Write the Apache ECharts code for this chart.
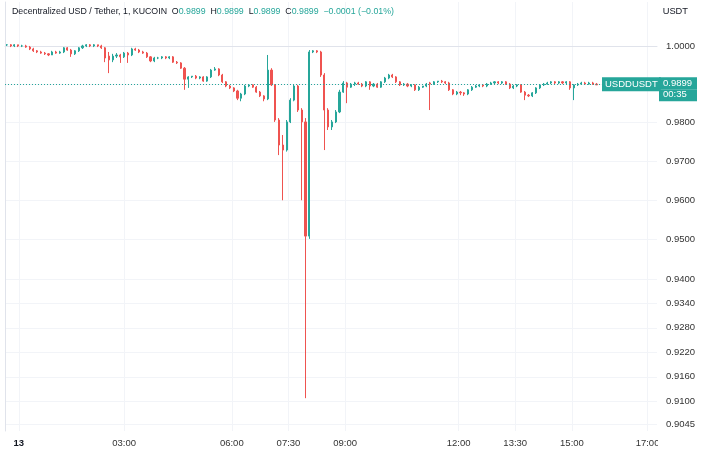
<!DOCTYPE html>
<html><head><meta charset="utf-8">
<script src="https://cdn.jsdelivr.net/npm/echarts@6/dist/echarts.min.js"></script>
<style>html,body{margin:0;padding:0;background:#fff}#c{width:710px;height:458px}</style>
</head><body><div id="c"></div>
<script>
// 6-minute candles
const opens = [
1.0005,1.0005,1.0002,1.0005,1.0002,1.0002,0.9999,0.9994,0.9989,0.9986,
0.9983,0.9981,0.9978,0.9986,0.9983,0.9986,0.9997,0.9991,0.9981,0.9989,
0.9997,1.0002,1.0005,1.0002,1.0005,1.0002,0.9997,0.9975,0.9965,0.9975,
0.9978,0.9973,0.9983,0.9978,0.9994,0.9991,0.9986,0.9983,0.9973,0.9962,
0.9970,0.9970,0.9973,0.9970,0.9973,0.9959,0.9957,0.9943,0.9914,0.9920,
0.9922,0.9917,0.9920,0.9909,0.9920,0.9938,0.9941,0.9925,0.9907,0.9896,
0.9891,0.9883,0.9864,0.9875,0.9896,0.9899,0.9893,0.9880,0.9870,0.9862,
0.9938,0.9899,0.9807,0.9742,0.9729,0.9802,0.9859,0.9896,0.9833,0.9802,
0.9509,0.9986,0.9989,0.9986,0.9925,0.9833,0.9789,0.9802,0.9828,0.9880,
0.9904,0.9893,0.9901,0.9904,0.9901,0.9896,0.9907,0.9896,0.9901,0.9893,
0.9907,0.9917,0.9925,0.9920,0.9907,0.9899,0.9901,0.9896,0.9899,0.9886,
0.9893,0.9896,0.9904,0.9901,0.9907,0.9909,0.9907,0.9904,0.9886,0.9875,
0.9880,0.9878,0.9875,0.9886,0.9893,0.9896,0.9899,0.9896,0.9901,0.9904,
0.9907,0.9904,0.9907,0.9901,0.9891,0.9896,0.9899,0.9880,0.9872,0.9870,
0.9878,0.9891,0.9899,0.9901,0.9904,0.9907,0.9904,0.9907,0.9904,0.9907,
0.9891,0.9899,0.9901,0.9904,0.9901,0.9904,0.9901
];
const closes = [
1.0005,1.0002,1.0005,1.0002,1.0002,0.9999,0.9994,0.9989,0.9986,0.9983,
0.9981,0.9978,0.9986,0.9983,0.9986,0.9997,0.9991,0.9981,0.9989,0.9997,
1.0002,1.0005,1.0002,1.0005,1.0002,0.9997,0.9970,0.9965,0.9975,0.9978,
0.9973,0.9983,0.9978,0.9994,0.9991,0.9986,0.9983,0.9973,0.9962,0.9970,
0.9970,0.9973,0.9970,0.9973,0.9959,0.9957,0.9943,0.9914,0.9920,0.9922,
0.9917,0.9920,0.9909,0.9920,0.9938,0.9941,0.9925,0.9907,0.9896,0.9891,
0.9883,0.9864,0.9875,0.9896,0.9899,0.9893,0.9880,0.9870,0.9862,0.9938,
0.9899,0.9807,0.9742,0.9729,0.9802,0.9859,0.9896,0.9833,0.9802,0.9509,
0.9986,0.9989,0.9986,0.9925,0.9833,0.9789,0.9802,0.9828,0.9880,0.9904,
0.9893,0.9901,0.9904,0.9901,0.9896,0.9907,0.9896,0.9901,0.9893,0.9907,
0.9917,0.9925,0.9920,0.9907,0.9899,0.9901,0.9896,0.9899,0.9886,0.9893,
0.9896,0.9901,0.9901,0.9907,0.9909,0.9907,0.9904,0.9886,0.9875,0.9880,
0.9878,0.9875,0.9886,0.9893,0.9896,0.9899,0.9896,0.9901,0.9904,0.9907,
0.9904,0.9907,0.9901,0.9891,0.9896,0.9899,0.9880,0.9872,0.9870,0.9878,
0.9891,0.9899,0.9901,0.9904,0.9907,0.9904,0.9907,0.9904,0.9907,0.9891,
0.9899,0.9901,0.9904,0.9901,0.9904,0.9901,0.9899
];
const lows = [
1.0002,0.9999,0.9999,0.9999,0.9999,0.9997,0.9991,0.9986,0.9983,0.9981,
0.9978,0.9975,0.9978,0.9981,0.9981,0.9983,0.9989,0.9973,0.9978,0.9986,
0.9994,0.9999,0.9999,0.9999,0.9999,0.9994,0.9959,0.9930,0.9959,0.9970,
0.9957,0.9970,0.9957,0.9975,0.9989,0.9983,0.9981,0.9970,0.9959,0.9959,
0.9967,0.9967,0.9967,0.9967,0.9957,0.9954,0.9941,0.9886,0.9891,0.9917,
0.9914,0.9914,0.9907,0.9907,0.9917,0.9936,0.9922,0.9904,0.9893,0.9888,
0.9880,0.9859,0.9856,0.9872,0.9893,0.9891,0.9878,0.9867,0.9856,0.9859,
0.9896,0.9802,0.9716,0.9600,0.9725,0.9799,0.9856,0.9828,0.9600,0.9108,
0.9502,0.9983,0.9983,0.9920,0.9729,0.9781,0.9781,0.9799,0.9825,0.9878,
0.9851,0.9891,0.9896,0.9899,0.9893,0.9893,0.9886,0.9893,0.9891,0.9891,
0.9904,0.9914,0.9917,0.9904,0.9896,0.9896,0.9893,0.9893,0.9883,0.9883,
0.9891,0.9893,0.9833,0.9899,0.9904,0.9904,0.9901,0.9883,0.9872,0.9872,
0.9872,0.9870,0.9872,0.9883,0.9891,0.9893,0.9893,0.9893,0.9899,0.9901,
0.9901,0.9901,0.9899,0.9888,0.9888,0.9893,0.9878,0.9859,0.9867,0.9867,
0.9875,0.9888,0.9896,0.9899,0.9901,0.9901,0.9901,0.9901,0.9901,0.9886,
0.9859,0.9896,0.9899,0.9899,0.9899,0.9899,0.9899
];
const highs = [
1.0007,1.0007,1.0007,1.0005,1.0005,1.0005,1.0002,0.9997,0.9991,0.9989,
0.9986,0.9983,0.9989,0.9989,0.9989,0.9999,0.9999,0.9994,0.9991,0.9999,
1.0005,1.0007,1.0007,1.0007,1.0005,1.0005,0.9999,0.9986,0.9981,0.9983,
0.9981,0.9986,0.9986,0.9997,0.9997,0.9994,0.9989,0.9986,0.9975,0.9973,
0.9973,0.9975,0.9975,0.9975,0.9975,0.9962,0.9959,0.9946,0.9922,0.9922,
0.9925,0.9922,0.9922,0.9922,0.9941,0.9946,0.9943,0.9928,0.9909,0.9899,
0.9893,0.9886,0.9878,0.9899,0.9901,0.9901,0.9896,0.9883,0.9872,0.9978,
0.9943,0.9901,0.9812,0.9768,0.9807,0.9864,0.9901,0.9899,0.9838,0.9812,
0.9991,0.9991,0.9991,0.9989,0.9930,0.9838,0.9807,0.9833,0.9886,0.9909,
0.9907,0.9904,0.9907,0.9907,0.9904,0.9909,0.9909,0.9904,0.9904,0.9909,
0.9920,0.9928,0.9928,0.9922,0.9909,0.9904,0.9904,0.9901,0.9901,0.9896,
0.9896,0.9904,0.9907,0.9909,0.9909,0.9912,0.9909,0.9907,0.9888,0.9883,
0.9883,0.9880,0.9888,0.9896,0.9899,0.9901,0.9901,0.9904,0.9907,0.9909,
0.9909,0.9909,0.9909,0.9904,0.9899,0.9901,0.9901,0.9883,0.9875,0.9880,
0.9893,0.9901,0.9904,0.9907,0.9909,0.9909,0.9909,0.9909,0.9909,0.9909,
0.9901,0.9904,0.9907,0.9907,0.9907,0.9907,0.9904
];
const barsPerCandle = 6;           // 1-minute bars per drawn candle
const priceTicks = [1.0000,0.9900,0.9800,0.9700,0.9600,0.9500,0.9400,0.9340,0.9280,0.9220,0.9160,0.9100,0.9045];
const timeTickBars = [22,189,360,450,540,720,810,900,1020];
const timeTickLabels = ['13','03:00','06:00','07:30','09:00','12:00','13:30','15:00','17:00'];
const headerName = 'Decentralized USD / Tether, 1, KUCOIN';
const headerKeys = ['O','H','L','C'];
const headerVals = [0.9899,0.9899,0.9899,0.9899];
const headerChange = '\u22120.0001 (\u22120.01%)';
const lastPrice = 0.9899;
const countdown = '00:35';
const symbolName = 'USDDUSDT';
const priceRange = [0.90289, 1.01195];

const ln = Math.log;
const candles = opens.map((o, i) => [i * barsPerCandle + barsPerCandle / 2, ln(o), ln(closes[i]), ln(lows[i]), ln(highs[i])]);
const up = '#26a69a', down = '#ef5350';
const font = 'Liberation Sans';
const fs = 8.8;
let head = '{n|' + headerName + '}';
headerKeys.forEach((k, i) => { head += '  {k|' + k + '}{v|' + headerVals[i].toFixed(4) + '}'; });
head += '  {v|' + headerChange + '}';
const priceLine = { color: up, type: [1, 2], width: 1 };

const chart = echarts.init(document.getElementById('c'));
chart.setOption({
  animation: false,
  backgroundColor: '#ffffff',
  title: [
    { text: head, left: 7, top: 2,
      textStyle: { fontSize: fs, fontWeight: 'normal', fontFamily: font, color: '#131722',
        rich: { n: { fontSize: fs, fontFamily: font, color: '#131722' },
                k: { fontSize: fs, fontFamily: font, color: '#131722' },
                v: { fontSize: fs, fontFamily: font, color: up } } } },
    { text: 'USDT', right: 17, top: 2, textStyle: { fontSize: 9.3, fontWeight: 'normal', fontFamily: font, color: '#131722' } }
  ],
  graphic: [
    { type: 'rect', right: 0, bottom: 0, shape: { width: 52, height: 26 }, style: { fill: '#ffffff' }, z: 100 }
  ],
  grid: { left: 5, right: 53, top: 2, bottom: 27 },
  xAxis: {
    type: 'value', min: 0, max: 1035,
    axisLine: { show: true, lineStyle: { color: '#e0e3eb' } },
    axisTick: { show: false, customValues: timeTickBars },
    axisLabel: { customValues: timeTickBars, fontSize: 9.5, fontFamily: font, color: '#333', margin: 7,
      formatter: v => { const i = timeTickBars.indexOf(v); const s = i >= 0 ? timeTickLabels[i] : ''; return i === 0 ? '{b|' + s + '}' : s; },
      rich: { b: { fontWeight: 'bold', fontSize: 9.5, fontFamily: font, color: '#131722' } } },
    splitLine: { show: true, lineStyle: { color: '#f2f4f8', width: 1 } }
  },
  yAxis: {
    type: 'value', position: 'right', min: ln(priceRange[0]), max: ln(priceRange[1]),
    axisLine: { show: true, lineStyle: { color: '#e0e3eb' } },
    axisTick: { show: false, customValues: priceTicks.map(ln) },
    axisLabel: { customValues: priceTicks.map(ln), fontSize: 9.5, fontFamily: font, color: '#333', margin: 9,
      formatter: v => Math.exp(v).toFixed(4) },
    splitLine: { show: true, lineStyle: { color: '#f2f4f8', width: 1 } }
  },
  series: [{
    type: 'candlestick',
    data: candles,
    encode: { x: 0, y: [1, 2, 3, 4] },
    barWidth: 1.6,
    itemStyle: { color: up, color0: down, borderColor: up, borderColor0: down, borderWidth: 1 },
    markLine: {
      symbol: ['none', 'none'], silent: true, animation: false,
      data: [
        { yAxis: ln(lastPrice), lineStyle: priceLine,
          label: { show: true, position: 'end', distance: 2,
            formatter: '{e| }\n{a|' + lastPrice.toFixed(4) + '}\n{b|' + countdown + '}',
            rich: {
              e: { height: 10, fontSize: 1 },
              a: { width: 30, height: 11, padding: [1, 4, 0, 4], backgroundColor: up, color: '#fff', fontSize: 9.5, fontFamily: font },
              b: { width: 30, height: 11, padding: [0, 4, 1, 4], backgroundColor: up, color: '#fff', fontSize: 9.5, fontFamily: font }
            } } },
        { yAxis: ln(lastPrice), lineStyle: priceLine,
          label: { show: true, position: 'end', distance: -55, formatter: symbolName,
            backgroundColor: up, color: '#fff', fontSize: 9.5, fontFamily: font, padding: [2, 3, 2, 3] } }
      ]
    }
  }]
});
</script>
</body></html>
